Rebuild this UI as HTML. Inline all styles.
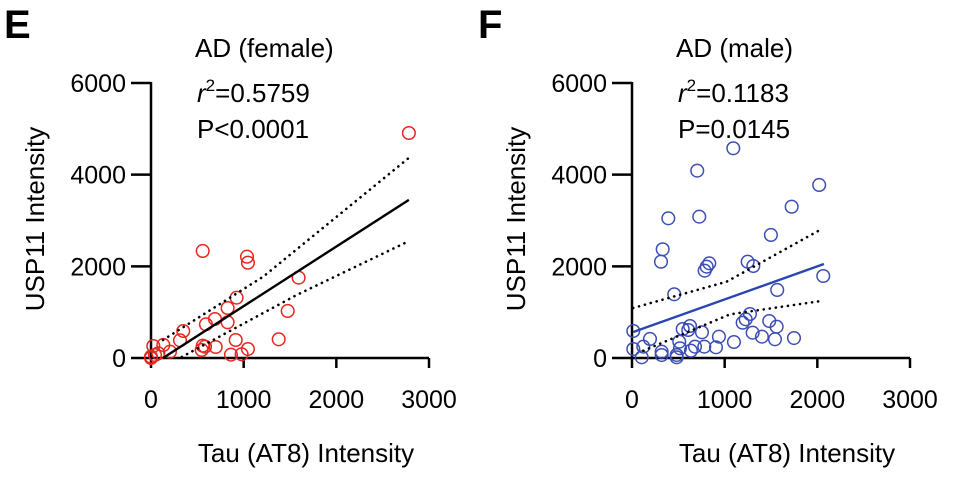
<!DOCTYPE html>
<html><head><meta charset="utf-8"><style>
body{margin:0;background:#fff;}
svg text{font-family:"Liberation Sans",Arial,sans-serif;fill:#000;}
</style></head><body>
<svg width="958" height="480" viewBox="0 0 958 480" xmlns="http://www.w3.org/2000/svg">
<g id="root"></g>
</svg>
<script>
const xTicks=[0,1000,2000,3000];
const yTicks=[0,2000,4000,6000];
const femaleX=[2783,558,1036,1046,1593,924,827,1475,690,593,827,348,313,914,1378,133,25,558,583,547,698,1046,205,79,863,978,0,43,0];
const femaleY=[4909,2335,2210,2079,1752,1316,1091,1026,851,735,779,589,386,393,408,284,262,268,247,175,240,196,137,103,72,81,28,65,0];
const femaleFitX=[130,2783];
const femaleFitY=[0,3450];
const femaleUpperX=[130,1211,2783];
const femaleUpperY=[393,1775,4367];
const femaleLowerX=[331,1572,2740];
const femaleLowerY=[22,1375,2509];
const maleX=[1093,704,2020,392,726,1723,1499,331,313,834,806,784,1248,1309,2064,456,1567,1273,1227,1194,1481,1561,626,547,607,14,755,1302,1402,1543,1748,194,938,510,1100,122,14,518,680,780,906,636,320,320,482,105,482];
const maleY=[4576,4087,3775,3048,3083,3301,2684,2372,2101,2066,1992,1905,2101,2007,1789,1390,1484,960,844,770,807,683,698,633,611,589,561,552,465,408,436,415,465,356,349,247,196,212,247,247,233,159,137,65,65,15,15];
const maleFitX=[14,2071];
const maleFitY=[567,2051];
const maleUpperX=[12,1021,2028];
const maleUpperY=[1091,1665,2793];
const maleLowerX=[122,1057,2064];
const maleLowerY=[159,953,1250];

const NS="http://www.w3.org/2000/svg";
const root=document.getElementById('root');
function mk(tag,attrs,parent){const e=document.createElementNS(NS,tag);for(const k in attrs)e.setAttribute(k,attrs[k]);(parent||root).appendChild(e);return e;}
function txt(s,attrs,parent){const e=mk('text',attrs,parent);e.textContent=s;return e;}

function panel(o){
  const g=mk('g',{});
  
  
  const x0=o.x0,xr=278,y0=358,yr=275;
  const sx=v=>x0+v/3000*xr, sy=v=>y0-v/6000*yr;
  const lt=txt(o.letter,{x:o.lx,y:38,'font-size':40,'font-weight':'bold'},g);
  
  
  const ax=mk('path',{d:`M${x0} ${sy(6000)-1}V${y0}H${sx(3000)}`,stroke:'#000','stroke-width':2.5,fill:'none'},g);
  
  
  xTicks.forEach(t=>{
    mk('line',{x1:sx(t),x2:sx(t),y1:y0,y2:y0+10,stroke:'#000','stroke-width':2.5},g);
    const l=txt(String(t),{x:sx(t),y:y0+50,'font-size':25,'text-anchor':'middle'},g);
    
    
  });
  yTicks.forEach(t=>{
    mk('line',{x1:x0-20,x2:x0,y1:sy(t),y2:sy(t),stroke:'#000','stroke-width':2.5},g);
    const l=txt(String(t),{x:x0-25,y:sy(t)+9,'font-size':25,'text-anchor':'end'},g);
    
    
  });
  const xt=txt('Tau (AT8) Intensity',{x:x0+155,y:462,'font-size':26,'text-anchor':'middle'},g);
  
  
  const yt=txt('USP11 Intensity',{x:0,y:0,'font-size':26,'text-anchor':'middle',transform:`translate(${x0-107},${219}) rotate(-90)`},g);
  
  
  const t1=txt(o.title,{x:x0+44,y:57,'font-size':26},g);
  
  
  const t2=mk('text',{x:x0+46,y:102,'font-size':26},g);
  t2.innerHTML=`<tspan font-style="italic">r</tspan><tspan dy="-11" font-size="17">2</tspan><tspan dy="11">=${o.r2}</tspan>`;
  
  
  const t3=txt(o.p,{x:x0+46,y:138,'font-size':26},g);
  
  
  o.xs.forEach((v,i)=>{
    const c=mk('circle',{cx:sx(v),cy:sy(o.ys[i]),r:6.3,fill:'none',stroke:o.color,'stroke-width':1.5},g);
    
    
  });
  const poly=(X,Y)=>X.map((v,i)=>sx(v)+','+sy(Y[i])).join(' ');
  const fl=mk('polyline',{points:poly(o.fx,o.fy),stroke:o.lineColor,'stroke-width':2.4,fill:'none'},g);
  
  
  [[o.ux,o.uy,'ci-upper'],[o.lx2,o.ly2,'ci-lower']].forEach(b=>{
    const p=mk('polyline',{points:poly(b[0],b[1]),stroke:'#000','stroke-width':2.6,'stroke-dasharray':'0.1 6','stroke-linecap':'round',fill:'none'},g);
    
    
  });
}
panel({name:'female-panel',letter:'E',lx:4,x0:151,title:'AD (female)',r2:'0.5759',p:'P<0.0001',xs:femaleX,ys:femaleY,color:'#e8251f',lineColor:'#000',fx:femaleFitX,fy:femaleFitY,ux:femaleUpperX,uy:femaleUpperY,lx2:femaleLowerX,ly2:femaleLowerY});
panel({name:'male-panel',letter:'F',lx:478,x0:632,title:'AD (male)',r2:'0.1183',p:'P=0.0145',xs:maleX,ys:maleY,color:'#3c4eb4',lineColor:'#2a44b0',fx:maleFitX,fy:maleFitY,ux:maleUpperX,uy:maleUpperY,lx2:maleLowerX,ly2:maleLowerY});
</script>
</body></html>
